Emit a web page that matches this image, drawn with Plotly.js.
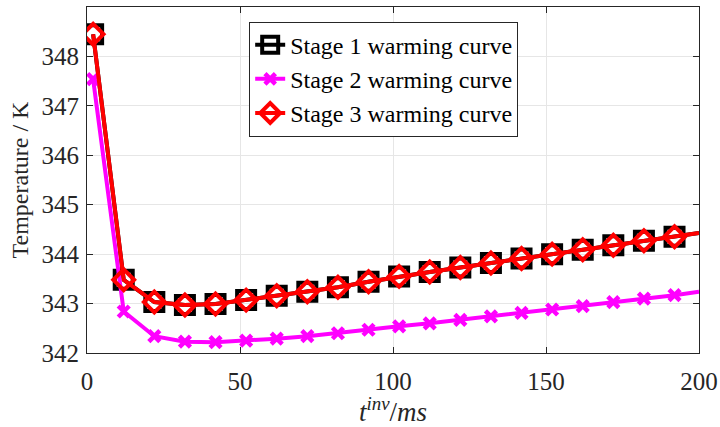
<!DOCTYPE html>
<html>
<head>
<meta charset="utf-8">
<script src="https://cdn.plot.ly/plotly-3.0.1.min.js"></script>
<style>
  html, body { margin: 0; padding: 0; background: #fff; }
  #chart { width: 720px; height: 427px; }
</style>
</head>
<body>
<div id="chart"></div>
<script>
// Inversion time (ms); the last sample closes the curve at the axis edge
const tInv = [2, 12, 22, 32, 42, 52, 62, 72, 82, 92, 102, 112, 122, 132, 142, 152, 162, 172, 182, 192, 200];

// Temperature (K) for each warming stage
const stage1 = [348.45, 343.48, 343.03, 342.97, 342.99, 343.07, 343.16, 343.24, 343.33, 343.44, 343.55, 343.64, 343.73, 343.82, 343.91, 344.00, 344.09, 344.18, 344.27, 344.35, 344.43];
const stage2 = [347.54, 342.84, 342.34, 342.23, 342.22, 342.25, 342.29, 342.34, 342.40, 342.47, 342.54, 342.60, 342.67, 342.74, 342.81, 342.88, 342.95, 343.03, 343.10, 343.17, 343.24];
const stage3 = [348.45, 343.48, 343.03, 342.97, 342.99, 343.07, 343.16, 343.24, 343.33, 343.44, 343.55, 343.64, 343.73, 343.82, 343.91, 344.00, 344.09, 344.18, 344.27, 344.35, 344.43];

const seriesNames = ['Stage 1 warming curve', 'Stage 2 warming curve', 'Stage 3 warming curve'];

const xTicks = [0, 50, 100, 150, 200];
const yTicks = [342, 343, 344, 345, 346, 347, 348, 349];

// markers on every sample except the closing one at the axis edge
function markerSizes(s) {
  return tInv.map((_, i) => (i < tInv.length - 1 ? s : 0));
}

const FONT = '"Liberation Serif", "Times New Roman", serif';
const INK = '#262626';

const traces = [
  {
    x: tInv, y: stage1, name: seriesNames[0], mode: 'lines+markers',
    line: { color: '#000000', width: 4 },
    marker: { symbol: 'square-open', size: markerSizes(18), opacity: 1, color: '#000000',
              line: { color: '#000000', width: 4 } }
  },
  {
    x: tInv, y: stage2, name: seriesNames[1], mode: 'lines+markers',
    line: { color: '#ff00ff', width: 4 },
    marker: { symbol: 'x-thin-open', size: markerSizes(11), opacity: 1, color: '#ff00ff',
              line: { color: '#ff00ff', width: 4.5 } }
  },
  {
    x: tInv, y: stage3, name: seriesNames[2], mode: 'lines+markers',
    line: { color: '#ff0000', width: 4 },
    marker: { symbol: 'diamond-open', size: markerSizes(16), opacity: 1, color: '#ff0000',
              line: { color: '#ff0000', width: 4 } }
  }
];

const axisCommon = {
  showline: true, linecolor: INK, linewidth: 1, mirror: 'ticks',
  ticks: 'inside', ticklen: 6, tickwidth: 1, tickcolor: INK,
  showgrid: true, gridcolor: '#e6e6e6', gridwidth: 1,
  zeroline: false,
  tickfont: { family: FONT, size: 25, color: INK }
};

const layout = {
  width: 720, height: 427,
  margin: { l: 87, r: 21, t: 7, b: 74 },
  paper_bgcolor: '#ffffff', plot_bgcolor: '#ffffff',
  font: { family: FONT, color: INK },
  showlegend: true,
  xaxis: Object.assign({}, axisCommon, {
    range: [0, 200], tickvals: xTicks, ticktext: xTicks.map(String),
    ticklabelstandoff: 6,
    title: { text: '<i>t</i><sup><i>inv</i></sup>/<i>ms</i>', font: { family: FONT, size: 27, color: INK }, standoff: 2 }
  }),
  yaxis: Object.assign({}, axisCommon, {
    range: [342, 349], tickvals: yTicks, ticktext: yTicks.map(String),
    ticklabelstandoff: 2,
    title: { text: 'Temperature / K', font: { family: FONT, size: 24, color: INK }, standoff: 6 }
  }),
  legend: {
    x: 0.265, xanchor: 'left', y: 0.958, yanchor: 'top',
    bgcolor: '#ffffff', bordercolor: INK, borderwidth: 1,
    font: { family: FONT, size: 24, color: '#000000' },
    tracegroupgap: 0
  }
};

Plotly.newPlot('chart', traces, layout, { displayModeBar: false, staticPlot: true });
</script>
</body>
</html>
